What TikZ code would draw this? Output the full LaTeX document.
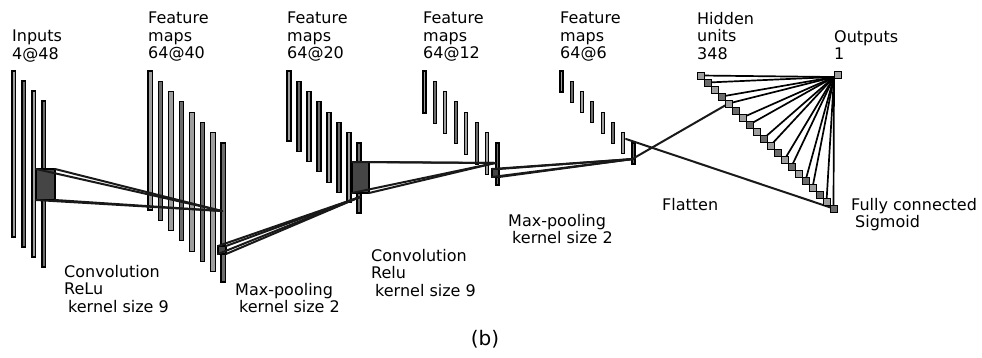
\documentclass[tikz,border=0pt]{standalone}
\usepackage{fontspec}
\setmainfont{DejaVu Sans}
\usepackage{tikz}
\usetikzlibrary{calc}
\usepackage{tkz-euclide}
\usepackage{xcolor}
\definecolor{map0}{gray}{0.62}
\definecolor{map1}{gray}{0.42}
\definecolor{patchgray}{gray}{0.27}
\definecolor{linkgray}{gray}{0.1}

\begin{document}
\begin{tikzpicture}[x=1pt, y=-1pt,
    fmap/.style={draw=black, line width=1.1pt},
    patch/.style={draw=black, fill=patchgray, line width=1.1pt},
    link/.style={draw=linkgray, line width=2pt},
    fan/.style={draw=black, line width=1.7pt},
    unit/.style={draw=black, line width=0.9pt},
    lbl/.style={anchor=north west, inner sep=0pt, align=left,
                font=\fontsize{16}{17.5}\selectfont}]
            \useasboundingbox (0,0) rectangle (982,357);
            \foreach \i in {0,...,3}{
              \pgfmathtruncatemacro{\c}{mod(\i,2)}
              \draw[fmap, fill=map\c] ({12+10*\i},{71+10*\i}) rectangle ++(3.5,166);}
            \foreach \x/\w/\h/\d in {148/4.5/139/10.43, 287/4/70/10, 423/3/42/10.43, 560/3/21/10.29}{
              \foreach \i in {0,...,7}{
                \pgfmathtruncatemacro{\c}{mod(\i,2)}
                \draw[fmap, fill=map\c] ({\x+\d*\i},{71+10.29*\i}) rectangle ++(\w,\h);}}
            \tkzDefPoints{36/169/ca, 55/169/cb, 36/200/cc, 55/200/cd, 222/211/ct,
                          218/246/pa, 226/246/pb, 218/254/pc, 226/254/pd, 360/197/pt,
                          352/162/da, 369/162/db, 352/193/dc, 369/193/dd, 495/163/dt,
                          492/169/qa, 499/169/qb, 492/177/qc, 499/177/qd, 633/159/qt,
                          626/139/fa, 634/158/fb, 834/77/out}
            \draw[patch] (ca) rectangle (cd);
            \tkzDrawSegments[link](ca,ct cb,ct cc,ct cd,ct)
            \draw[patch] (pa) rectangle (pd);
            \tkzDrawSegments[link](pa,pt pb,pt pc,pt pd,pt)
            \draw[patch] (da) rectangle (dd);
            \tkzDrawSegments[link](da,dt db,dt dc,dt dd,dt)
            \draw[patch] (qa) rectangle (qd);
            \tkzDrawSegments[link](qa,qt qb,qt qc,qt qd,qt)
            \foreach \i in {0,...,19}{
              \coordinate (h\i) at ({700.5+7*\i},{75.5+7*\i});}
            \foreach \i in {0,1,3,4,6,7,9,10,12,13,15,16,18,19}{
              \draw[fan] (out) -- (h\i);}
            \tkzDrawSegments[link](fa,h19 fb,h4)
            \foreach \i in {0,...,19}{
              \pgfmathtruncatemacro{\c}{mod(\i,2)}
              \draw[unit, fill=map\c] ({697+7*\i},{72+7*\i}) rectangle ++(7,7);}
            \draw[unit, fill=map0] (834,71) rectangle (841,78);
            \node[lbl] (inp) at (12,30) {Inputs\\4@48};
            \node[lbl] (fm1) at (148,12) {Feature\\maps\\64@40};
            \node[lbl] (fm2) at (287,12) {Feature\\maps\\64@20};
            \node[lbl] (fm3) at (423,12) {Feature\\maps\\64@12};
            \node[lbl] (fm4) at (560,12) {Feature\\maps\\64@6};
            \node[lbl] (hid) at (697,12) {Hidden\\units\\348};
            \node[lbl] (outl) at (834,30) {Outputs\\1};
            \node[lbl] (conv1) at (64,265) {Convolution\\ReLu\\\hspace{4pt}kernel size 9};
            \node[lbl] (pool1) at (235,283) {Max-pooling\\\hspace{4pt}kernel size 2};
            \node[lbl] (conv2) at (371,249) {Convolution\\Relu\\\hspace{4pt}kernel size 9};
            \node[lbl] (pool2) at (508,214) {Max-pooling\\\hspace{4pt}kernel size 2};
            \node[lbl] (flat) at (662,198) {Flatten};
            \node[lbl] (fc) at (851,198) {Fully connected\\\hspace{4pt}Sigmoid};
            \node[lbl, anchor=north, font=\fontsize{20}{22}\selectfont] (cap) at (485,330) {(b)};
\end{tikzpicture}
\end{document}
